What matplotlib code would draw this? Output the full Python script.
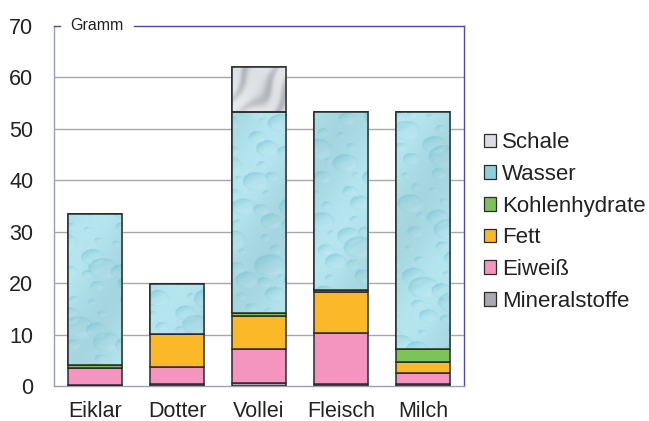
import numpy as np
import matplotlib
matplotlib.use("Agg")
import matplotlib.pyplot as plt
from matplotlib.patches import Patch

plt.rcParams['font.family'] = ['Liberation Sans', 'DejaVu Sans']

# Composition (grams) per food item, stacked bottom to top
categories = ["Eiklar", "Dotter", "Vollei", "Fleisch", "Milch"]
mineralstoffe = [0.2, 0.3, 0.5, 0.4, 0.4]
eiweiss = [3.3, 3.3, 6.6, 10.0, 2.1]
fett = [0.0, 6.5, 6.5, 7.9, 2.1]
kohlenhydrate = [0.5, 0.1, 0.5, 0.3, 2.6]
wasser = [29.4, 9.6, 39.2, 34.7, 46.1]
schale = [0.0, 0.0, 8.7, 0.0, 0.0]
yticks = [0, 10, 20, 30, 40, 50, 60, 70]

EDGE = "#2b2b2b"
C_MIN = "#a9aaad"
C_EIW = "#f395be"
C_FETT = "#fbb929"
C_KH = "#7dc35a"
C_WAS = "#aadfe8"
C_SCH = "#d6d7db"


def water_texture(h, w):
    """Light cyan surface covered with shaded droplets."""
    base = np.array([0.68, 0.87, 0.91])
    dark = np.array([0.42, 0.74, 0.81])
    light = np.array([0.88, 0.96, 0.97])
    yy, xx = np.mgrid[0:h, 0:w].astype(float)
    img = np.ones((h, w, 3)) * base
    img += (0.03 * np.sin(xx * 0.05 + yy * 0.03))[..., None]
    n = 380
    for i in range(n):
        cx = ((i * 0.7548777) % 1.0) * w
        cy = ((i * 0.5698403) % 1.0) * h
        r = 3.0 + 10.0 * ((i * 0.4142136) % 1.0) ** 2
        rx, ry = r * 1.25, r * 0.9
        x0, x1 = int(max(cx - rx - 1, 0)), int(min(cx + rx + 2, w))
        y0, y1 = int(max(cy - ry - 1, 0)), int(min(cy + ry + 2, h))
        if x1 <= x0 or y1 <= y0:
            continue
        dx = (xx[y0:y1, x0:x1] - cx) / rx
        dy = (yy[y0:y1, x0:x1] - cy) / ry
        d = np.sqrt(dx ** 2 + dy ** 2)
        inside = d < 1.0
        t = np.clip(-0.6 * dx - 0.8 * dy, -1, 1)
        sub = img[y0:y1, x0:x1]
        shade = np.where(t > 0, 0.45 * t, 0.0)[..., None]
        hi = np.where(t < -0.3, 0.5 * (-t - 0.3), 0.0)[..., None]
        col = sub * (1 - shade) + dark * shade
        col = col * (1 - hi) + light * hi
        rim = ((d > 0.8) & inside)[..., None]
        col = np.where(rim, col * 0.88 + dark * 0.12, col)
        sub[:] = np.where(inside[..., None], col, sub)
    return np.clip(img, 0, 1)


def marble_texture(h, w):
    """Whitish grey marbled surface with soft diagonal streaks."""
    yy, xx = np.mgrid[0:h, 0:w].astype(float)
    s = 0.22 * (xx + 0.9 * yy) + 1.6 * np.sin(0.09 * yy - 0.04 * xx) \
        + 0.8 * np.sin(0.17 * xx)
    v = (0.5 + 0.5 * np.sin(s)) ** 2
    g = 0.5 + 0.5 * np.sin(0.05 * xx - 0.06 * yy + 1.0)
    light = np.array([0.91, 0.92, 0.93])
    grey = np.array([0.66, 0.67, 0.70])
    wgt = np.clip(0.35 * v + 0.35 * g * v + 0.15 * g, 0, 1)[..., None]
    return light * (1 - wgt) + grey * wgt


fig = plt.figure(figsize=(6.49, 4.21), dpi=100)
ax = fig.add_axes([54 / 649, 35 / 421, 410 / 649, 360 / 421])

x = np.arange(len(categories))
width = 0.66
layers = [
    ("Mineralstoffe", mineralstoffe, C_MIN),
    ("Eiweiß", eiweiss, C_EIW),
    ("Fett", fett, C_FETT),
    ("Kohlenhydrate", kohlenhydrate, C_KH),
    ("Wasser", wasser, C_WAS),
    ("Schale", schale, C_SCH),
]

xlim = (-0.5, len(categories) - 0.5)
ylim = (0, 70)
tex_water = water_texture(360, 410)
tex_marble = marble_texture(360, 410)

bottom = np.zeros(len(categories))
for name, vals, color in layers:
    vals = np.asarray(vals, dtype=float)
    bars = ax.bar(x, vals, width, bottom=bottom, color=color,
                  edgecolor=EDGE, linewidth=1.1, zorder=3)
    if name in ("Wasser", "Schale"):
        tex = tex_water if name == "Wasser" else tex_marble
        for patch, v in zip(bars.patches, vals):
            if v <= 0:
                continue
            im = ax.imshow(tex, extent=(xlim[0], xlim[1], ylim[0], ylim[1]),
                           aspect="auto", zorder=3.5, interpolation="bilinear")
            im.set_clip_path(patch)
        ax.bar(x[vals > 0], vals[vals > 0], width, bottom=bottom[vals > 0],
               fill=False, edgecolor=EDGE, linewidth=1.1, zorder=4)
    bottom = bottom + vals

ax.set_xlim(*xlim)
ax.set_ylim(*ylim)
ax.set_xticks(x)
ax.set_xticklabels(categories)
ax.set_yticks(yticks)
ax.tick_params(axis="both", length=0, labelsize=15.5, colors="#222222")
ax.tick_params(axis="y", pad=15)
ax.tick_params(axis="x", pad=11)

for yv in yticks[1:-1]:
    ax.axhline(yv, color="#a8a8a8", linewidth=1.0, zorder=1)

ax.spines["left"].set_color("#9a9cc0")
ax.spines["bottom"].set_color("#9a9cc0")
ax.spines["right"].set_color("#4a4aa8")
ax.spines["top"].set_visible(False)
for s in ax.spines.values():
    s.set_linewidth(1.0)

# top border with a gap for the unit label
ax.plot([0, 6 / 410], [1, 1], transform=ax.transAxes, color="#4a4aa8",
        lw=1.0, clip_on=False, zorder=5)
ax.plot([80 / 410, 1], [1, 1], transform=ax.transAxes, color="#4a4aa8",
        lw=1.0, clip_on=False, zorder=5)
ax.text(16 / 410, 1.0, "Gramm", transform=ax.transAxes, ha="left",
        va="center", fontsize=11.5, color="#222222")

handles = [Patch(facecolor=c, edgecolor=EDGE, linewidth=0.9)
           for _, _, c in layers][::-1]
labels = [n for n, _, _ in layers][::-1]
handles[0] = Patch(facecolor="#dcdde0", edgecolor=EDGE, linewidth=0.9)
handles[1] = Patch(facecolor="#8fcfdb", edgecolor=EDGE, linewidth=0.9)
fig.legend(handles, labels, loc="center left",
           bbox_to_anchor=(464 / 649, 1 - 222 / 421), frameon=False,
           fontsize=16, handlelength=0.55, handleheight=0.55,
           handletextpad=0.25, labelspacing=0.48, labelcolor="#222222")

fig.savefig("out.png", dpi=100)
